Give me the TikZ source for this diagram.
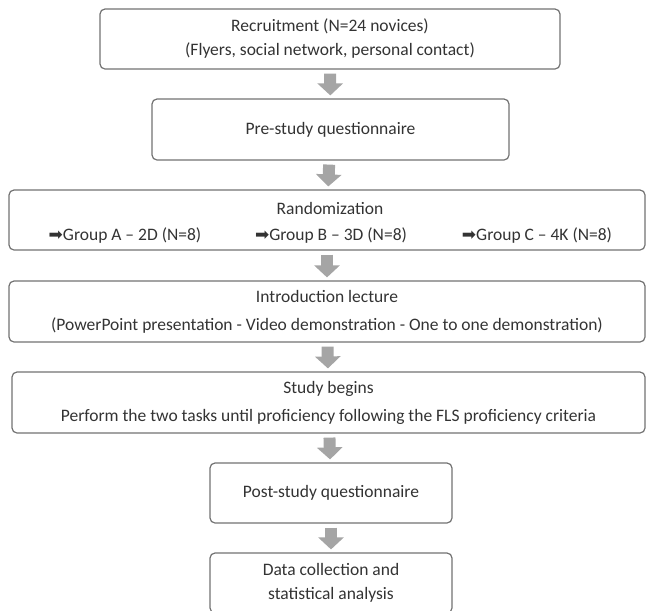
\documentclass[tikz,border=0pt]{standalone}
\usepackage{fontspec}
\setmainfont{Carlito}
\newfontfamily\arrowfont{DejaVu Sans}
\usetikzlibrary{arrows.meta}
\definecolor{boxgray}{HTML}{727272}
\definecolor{textgray}{HTML}{333333}
\definecolor{arrowgray}{HTML}{A5A5A5}

\begin{document}
\begin{tikzpicture}[x=1pt,y=-1pt]

\tikzset{box/.style = {shape=rectangle,draw=boxgray,rounded corners=5pt,line width=1.2pt,align=center,text=textgray,inner sep=0pt,font=\fontsize{17.5}{24}\selectfont}}
\tikzset{label/.style = {text=textgray,inner sep=0pt,font=\fontsize{17.5}{24}\selectfont}}
\tikzset{flow/.style = {draw=arrowgray,line width=12pt,-{Triangle[width=25pt,length=12pt]},shorten <=4pt,shorten >=3pt}}
\newcommand{\grouparrow}{{\arrowfont\fontsize{17}{17}\selectfont ➡}}
\useasboundingbox (0,0) rectangle (646,611);
\clip (0,0) rectangle (646,611);
%boxes
\node[box, minimum width=460pt, minimum height=60pt] (recruit) at (330,39) {Recruitment (N=24 novices)\\(Flyers, social network, personal contact)};
\node[box, minimum width=357pt, minimum height=61pt] (prestudy) at (330.5,129.5) {Pre-study questionnaire};
\node[box, minimum width=636pt, minimum height=60pt] (random) at (327,220) {};
\node[box, minimum width=636pt, minimum height=61pt] (intro) at (327,311.5) {Introduction lecture\\[4pt](PowerPoint presentation - Video demonstration - One to one demonstration)};
\node[box, minimum width=633pt, minimum height=61pt] (study) at (328.5,402.5) {Study begins\\[4pt]Perform the two tasks until proficiency following the FLS proficiency criteria};
\node[box, minimum width=242pt, minimum height=60pt] (poststudy) at (331,493) {Post-study questionnaire};
\node[box, minimum width=242pt, minimum height=60pt] (datacoll) at (331,583) {Data collection and\\statistical analysis};
%groups
\node[label] (randtitle) at (330,208) {Randomization};
\node[label] (groupa) at (125,236) {\grouparrow Group A -- 2D (N=8)};
\node[label] (groupb) at (331,236) {\grouparrow Group B -- 3D (N=8)};
\node[label] (groupc) at (537,236) {\grouparrow Group C -- 4K (N=8)};
%arrows
\draw[flow] (recruit) -- (prestudy);
\draw[flow] (prestudy) -- (random);
\draw[flow] (random) -- (intro);
\draw[flow] (intro) -- (study);
\draw[flow] (study) -- (poststudy);
\draw[flow] (poststudy) -- (datacoll);

\end{tikzpicture}
\end{document}
